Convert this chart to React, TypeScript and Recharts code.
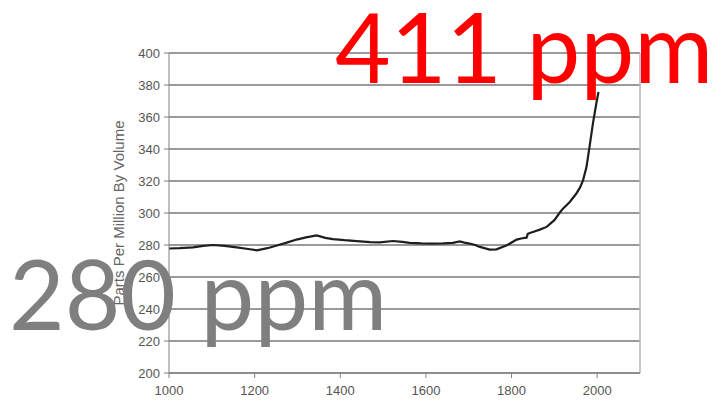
import React from 'react';
import { LineChart, Line, XAxis, YAxis, CartesianGrid, ReferenceLine } from 'recharts';

const years = [1000, 1025, 1056, 1080, 1103, 1130, 1158, 1185, 1205, 1230, 1252, 1275, 1298, 1320, 1345, 1365, 1383, 1410, 1446, 1470, 1492, 1523, 1545, 1562, 1590, 1616, 1640, 1663, 1679, 1690, 1702, 1715, 1726, 1749, 1765, 1789, 1812, 1825, 1835, 1838, 1843, 1855, 1866, 1882, 1900, 1912, 1920, 1936, 1951, 1960, 1967, 1975, 1982, 1990, 1998, 2003];
const ppm = [277.8, 278, 278.5, 279.5, 280, 279.5, 278.5, 277.5, 276.7, 278, 279.7, 281.5, 283.4, 284.8, 286, 284.5, 283.7, 283, 282.3, 281.8, 281.7, 282.5, 282, 281.3, 281, 280.9, 281, 281.3, 282.2, 281.5, 280.9, 280, 278.8, 277.1, 277.3, 279.8, 283.4, 284.2, 284.6, 287, 287.5, 288.6, 289.6, 291.3, 295.5, 300, 302.7, 306.9, 312, 316, 320.4, 328.7, 341.2, 355.9, 368.4, 375.6];
const xTicks = [1000, 1200, 1400, 1600, 1800, 2000];
const yTicks = [200, 220, 240, 260, 280, 300, 320, 340, 360, 380, 400];
const yLabel = 'Parts Per Million By Volume';
const nowText = '411 ppm';
const preText = '280 ppm';

const data = years.map((y, i) => ({ year: y, ppm: ppm[i] }));

export default function App() {
  return (
    <div style={{ position: 'absolute', left: 0, top: 0, width: 720, height: 400, background: '#fff' }}>
      <LineChart width={720} height={400} data={data} margin={{ top: 53, right: 80, bottom: 0, left: 0 }}>
        <CartesianGrid vertical={false} stroke="#9a9a9a" strokeWidth={2} />
        <ReferenceLine x={2100} stroke="#b5b5b5" strokeWidth={1.5} />
        <XAxis
          dataKey="year"
          type="number"
          domain={[1000, 2100]}
          ticks={xTicks}
          height={27}
          tickSize={5}
          tickMargin={8}
          stroke="#808080"
          tick={{ fill: '#555', fontSize: 13, fontFamily: 'Liberation Sans, Arial, sans-serif' }}
        />
        <YAxis
          type="number"
          domain={[200, 400]}
          ticks={yTicks}
          width={169}
          tickSize={5}
          tickMargin={4}
          stroke="#808080"
          tick={{ fill: '#555', fontSize: 13, fontFamily: 'Liberation Sans, Arial, sans-serif' }}
          label={{
            value: yLabel,
            angle: -90,
            position: 'insideRight',
            offset: 50,
            fill: '#666',
            fontSize: 15,
            fontFamily: 'Liberation Sans, Arial, sans-serif',
            style: { textAnchor: 'middle' },
          }}
        />
        <Line dataKey="ppm" type="linear" stroke="#1e1e1e" strokeWidth={2.2} dot={false} isAnimationActive={false} />
      </LineChart>
      <svg width={720} height={400} style={{ position: 'absolute', left: 0, top: 0, pointerEvents: 'none' }}>
        <text x={335} y={83} fill="#ff0000" fontSize={96} fontFamily="Lato, sans-serif">{nowText}</text>
        <text x={9} y={330} fill="#7f7f7f" fontSize={96} fontFamily="Lato, sans-serif">{preText}</text>
      </svg>
    </div>
  );
}
